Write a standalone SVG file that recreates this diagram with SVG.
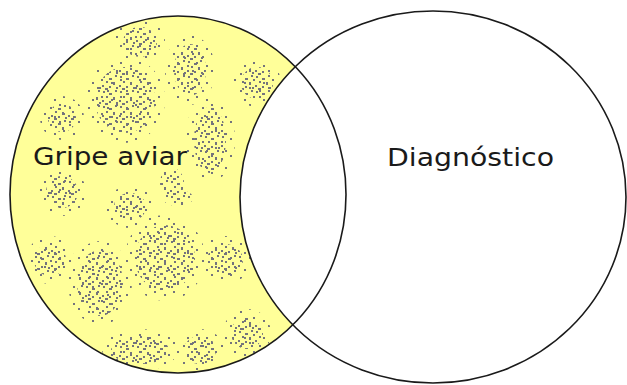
<svg xmlns="http://www.w3.org/2000/svg" width="627" height="385" viewBox="0 0 627 385">
<style>
.label{font-family:"DejaVu Sans","Verdana",sans-serif;font-size:25px;fill:#1a1a1a}
.blob{fill:url(#stip)}
.halo{fill:url(#stip2)}
.outline{fill:none;stroke:#1a1a1a;stroke-width:1.6}
</style>
<defs>
<pattern id="stip" width="17" height="15" patternUnits="userSpaceOnUse">
<g fill="#74747c">
<rect x="1" y="1" width="2" height="2"/>
<rect x="7" y="3" width="3" height="2"/>
<rect x="13" y="0" width="2" height="2"/>
<rect x="4" y="6" width="2" height="2"/>
<rect x="11" y="7" width="2" height="3"/>
<rect x="0" y="10" width="2" height="2"/>
<rect x="7" y="11" width="2" height="2"/>
<rect x="14" y="12" width="2" height="2"/>
<rect x="3" y="13" width="3" height="2"/>
</g>
</pattern>
<pattern id="stip2" width="19" height="17" patternUnits="userSpaceOnUse">
<g fill="#74747c">
<rect x="2" y="2" width="2" height="2"/>
<rect x="12" y="5" width="2" height="2"/>
<rect x="6" y="11" width="2" height="2"/>
<rect x="16" y="14" width="2" height="2"/>
</g>
</pattern>
<clipPath id="leftClip"><ellipse cx="178" cy="194.5" rx="168" ry="178.5"/></clipPath>
</defs>
<g id="gripe-aviar">
<ellipse cx="178" cy="194.5" rx="168" ry="178.5" fill="#ffff99"/>
<g clip-path="url(#leftClip)">
<ellipse class="halo" cx="140" cy="42" rx="25" ry="23"/>
<ellipse class="blob" cx="140" cy="42" rx="17" ry="15"/>
<ellipse class="halo" cx="190" cy="70" rx="25" ry="35"/>
<ellipse class="blob" cx="190" cy="70" rx="16" ry="26"/>
<ellipse class="halo" cx="257" cy="83" rx="24" ry="24"/>
<ellipse class="blob" cx="257" cy="83" rx="16" ry="16"/>
<ellipse class="halo" cx="125" cy="100" rx="40" ry="43"/>
<ellipse class="blob" cx="125" cy="100" rx="30" ry="33"/>
<ellipse class="halo" cx="62" cy="118" rx="22" ry="22"/>
<ellipse class="blob" cx="62" cy="118" rx="14" ry="14"/>
<ellipse class="halo" cx="210" cy="140" rx="25" ry="42"/>
<ellipse class="blob" cx="210" cy="140" rx="16" ry="33"/>
<ellipse class="blob" cx="172" cy="183" rx="12" ry="15"/>
<ellipse class="halo" cx="62" cy="192" rx="24" ry="24"/>
<ellipse class="blob" cx="62" cy="192" rx="16" ry="16"/>
<ellipse class="halo" cx="130" cy="207" rx="24" ry="21"/>
<ellipse class="blob" cx="130" cy="207" rx="16" ry="14"/>
<ellipse class="blob" cx="178" cy="198" rx="15" ry="8"/>
<ellipse class="halo" cx="50" cy="260" rx="24" ry="24"/>
<ellipse class="blob" cx="50" cy="260" rx="16" ry="16"/>
<ellipse class="halo" cx="100" cy="283" rx="32" ry="42"/>
<ellipse class="blob" cx="100" cy="283" rx="23" ry="33"/>
<ellipse class="halo" cx="165" cy="258" rx="40" ry="43"/>
<ellipse class="blob" cx="165" cy="258" rx="30" ry="33"/>
<ellipse class="halo" cx="225" cy="260" rx="26" ry="24"/>
<ellipse class="blob" cx="225" cy="260" rx="18" ry="16"/>
<ellipse class="halo" cx="247" cy="333" rx="24" ry="24"/>
<ellipse class="blob" cx="247" cy="333" rx="16" ry="16"/>
<ellipse class="halo" cx="140" cy="350" rx="38" ry="21"/>
<ellipse class="blob" cx="140" cy="350" rx="29" ry="14"/>
<ellipse class="halo" cx="200" cy="350" rx="24" ry="21"/>
<ellipse class="blob" cx="200" cy="350" rx="16" ry="14"/>
</g>
</g>
<g id="diagnostico">
<ellipse cx="433" cy="197" rx="193" ry="186" class="outline" style="fill:#ffffff"/>
<text class="label" x="387" y="166" textLength="167" lengthAdjust="spacingAndGlyphs">Diagnóstico</text>
</g>
<g id="gripe-aviar-label">
<ellipse class="outline" cx="178" cy="194.5" rx="168" ry="178.5"/>
<text class="label" x="33" y="165" textLength="154" lengthAdjust="spacingAndGlyphs">Gripe aviar</text>
</g>
</svg>
